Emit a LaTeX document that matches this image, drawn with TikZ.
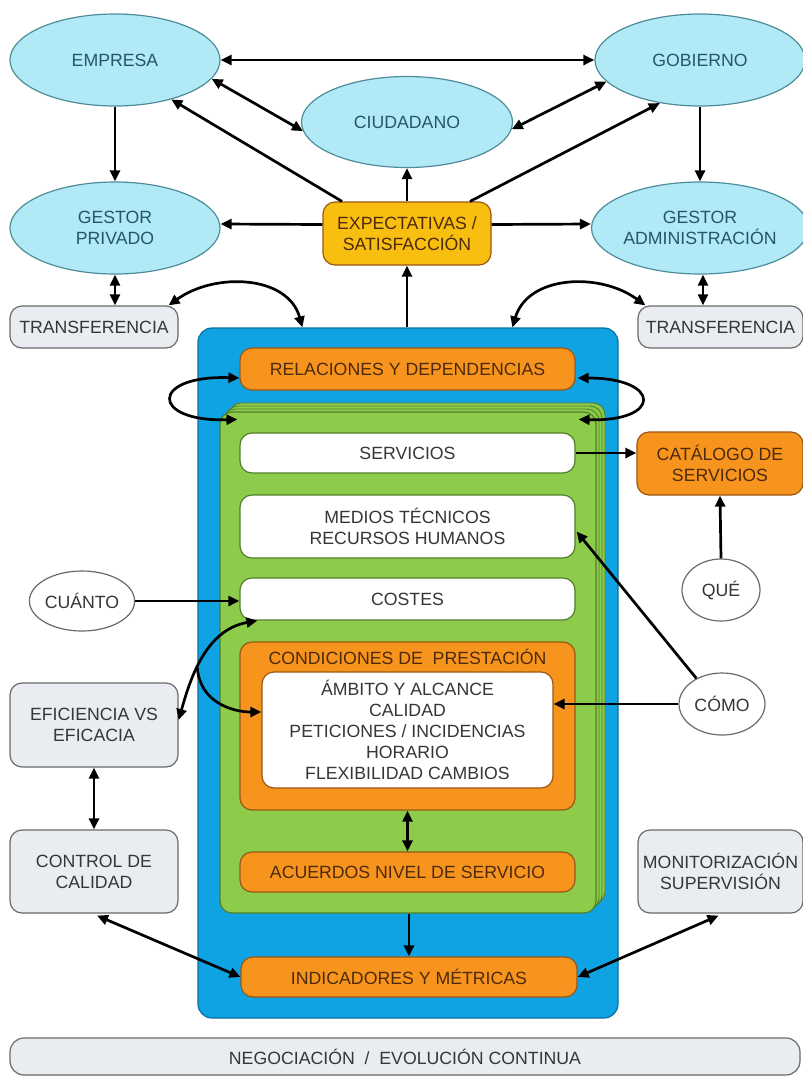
\documentclass[tikz,border=0pt]{standalone}
\usepackage{fontspec}
\setmainfont{Liberation Sans}
\usetikzlibrary{shapes.geometric,arrows.meta,calc}
\definecolor{cyanfill}{HTML}{B2E9F7}
\definecolor{cyanline}{HTML}{4E8C9C}
\definecolor{cyantext}{HTML}{245866}
\definecolor{orangefill}{HTML}{F7941E}
\definecolor{orangeline}{HTML}{9A5712}
\definecolor{orangetext}{HTML}{4E2A0C}
\definecolor{yellowfill}{HTML}{F9BF10}
\definecolor{bluefill}{HTML}{0FA3E3}
\definecolor{blueline}{HTML}{0A6FA0}
\definecolor{greenfill}{HTML}{8DCB4A}
\definecolor{greenline}{HTML}{4F7F2A}
\definecolor{grayfill}{HTML}{E9EDF2}
\definecolor{grayline}{HTML}{6A6A6A}
\definecolor{darktext}{HTML}{363636}
\tikzset{
  txt/.style={font=\fontsize{17.7}{21}\selectfont, align=center, inner sep=0pt},
  oval/.style={txt, ellipse, draw=cyanline, line width=1.2pt, fill=cyanfill, text=cyantext, minimum width=210pt, minimum height=92pt},
  smalloval/.style={txt, ellipse, draw=grayline, line width=1.2pt, fill=white, text=darktext},
  graybox/.style={txt, rectangle, rounded corners=12pt, draw=grayline, line width=1.2pt, fill=grayfill, text=darktext},
  orangebox/.style={txt, rectangle, rounded corners=12pt, draw=orangeline, line width=1.2pt, fill=orangefill, text=orangetext, minimum width=335pt},
  whitebox/.style={txt, rectangle, rounded corners=12pt, draw=greenline, line width=1.2pt, fill=white, text=darktext, minimum width=335pt},
  arr/.style={line width=2.7pt, -{Triangle[length=11pt,width=10pt]}},
  dbl/.style={line width=2.7pt, {Triangle[length=11pt,width=10pt]}-{Triangle[length=11pt,width=10pt]}},
}
\begin{document}
\begin{tikzpicture}[x=1pt,y=-1pt]
\useasboundingbox (0,0) rectangle (803,1077);
\fill[white] (0,0) rectangle (803,1077);

% top ellipses
\node[oval] (emp) at (115,60) {EMPRESA};
\node[oval] (gob) at (700,60) {GOBIERNO};
\node[oval, minimum width=211pt, minimum height=91pt] (ciu) at (407,122) {CIUDADANO};
\node[oval] (gpri) at (115,228) {GESTOR\\PRIVADO};
\node[oval, minimum width=208pt] (gadm) at (700,228) {GESTOR\\ADMINISTRACIÓN};
\node[txt, rectangle, rounded corners=12pt, draw=orangeline, line width=1.2pt, fill=yellowfill, text=orangetext, minimum width=168pt, minimum height=63pt] (exp) at (407,233.5) {EXPECTATIVAS /\\SATISFACCIÓN};

% transfer boxes
\node[graybox, minimum width=168pt, minimum height=42pt] (trL) at (94,327) {TRANSFERENCIA};
\node[graybox, minimum width=165pt, minimum height=42pt] (trR) at (720.5,327) {TRANSFERENCIA};

% blue container
\node[rectangle, rounded corners=14pt, draw=blueline, line width=1.2pt, fill=bluefill, minimum width=420pt, minimum height=690pt, inner sep=0pt] (blue) at (408,673) {};

% green stack
\foreach \k in {3,2,1} {
  \draw[rounded corners=12pt, draw=greenline, line width=0.9pt, fill=greenfill]
    (220+3*\k, 412-3*\k) rectangle (596+3*\k, 913-3*\k);
}
\node[rectangle, rounded corners=12pt, draw=greenline, line width=1.2pt, fill=greenfill, minimum width=376pt, minimum height=501pt, inner sep=0pt] (green) at (408,662.5) {};

\node[orangebox, minimum height=42pt] (rel) at (407.5,369) {RELACIONES Y DEPENDENCIAS};
\node[whitebox, minimum height=40pt] (serv) at (407.5,453) {SERVICIOS};
\node[whitebox, minimum height=63pt] (med) at (407.5,526.5) {MEDIOS TÉCNICOS\\RECURSOS HUMANOS};
\node[whitebox, minimum height=42pt] (cos) at (407.5,599) {COSTES};
\node[orangebox, minimum height=168pt] (cond) at (407.5,726) {};
\node[txt, text=orangetext] (condlab) at (407.5,657) {CONDICIONES DE\ \ PRESTACIÓN};
\node[txt, rectangle, rounded corners=12pt, draw=orangeline, line width=1.2pt, fill=white, text=darktext, minimum width=291pt, minimum height=116pt, font=\fontsize{17.7}{21}\selectfont] (inner) at (407.5,730) {ÁMBITO Y ALCANCE\\CALIDAD\\PETICIONES / INCIDENCIAS\\HORARIO\\FLEXIBILIDAD CAMBIOS};
\node[orangebox, minimum height=40pt] (acu) at (407.5,872) {ACUERDOS NIVEL DE SERVICIO};
\node[orangebox, minimum width=336pt, minimum height=40pt] (ind) at (409,977) {INDICADORES Y MÉTRICAS};

% right side
\node[txt, rectangle, rounded corners=12pt, draw=orangeline, line width=1.2pt, fill=orangefill, text=orangetext, minimum width=166pt, minimum height=63pt] (cat) at (720,463.5) {CATÁLOGO DE\\SERVICIOS};
\node[smalloval, minimum width=78pt, minimum height=62pt] (que) at (721,590) {QUÉ};
\node[smalloval, minimum width=86pt, minimum height=62pt] (como) at (722,704) {CÓMO};
\node[graybox, minimum width=165pt, minimum height=83pt] (mon) at (720.5,871.5) {MONITORIZACIÓN\\SUPERVISIÓN};

% left side
\node[smalloval, minimum width=105pt, minimum height=60pt] (cuan) at (82,601) {CUÁNTO};
\node[graybox, minimum width=168pt, minimum height=84pt] (efi) at (94,725) {EFICIENCIA VS\\EFICACIA};
\node[graybox, minimum width=168pt, minimum height=83pt] (ctrl) at (94,871.5) {CONTROL DE\\CALIDAD};

% bottom
\node[graybox, minimum width=790pt, minimum height=37pt, rounded corners=14pt] (neg) at (405,1056.5) {NEGOCIACIÓN\ \ /\ \ EVOLUCIÓN CONTINUA};

% connectors top
\draw[dbl] (emp.east) -- (gob.west);
\draw[dbl] (emp.-11) -- (ciu.185);
\draw[dbl] (ciu.-4) -- (gob.193);
\draw[arr] (emp.south) -- (gpri.north);
\draw[arr] (gob.south) -- (gadm.north);
\draw[arr] ($(exp.north)+(-65,0)$) -- (emp.-35);
\draw[arr] (exp.north) -- (ciu.south);
\draw[arr] ($(exp.north)+(63,0)$) -- (gob.227);
\draw[arr] ($(exp.west)+(0,-9)$) -- ($(gpri.east)+(0,-4)$);
\draw[arr] ($(exp.east)+(0,-9)$) -- ($(gadm.west)+(0,-4)$);
\draw[arr] (exp.south |- blue.north) -- (exp.south);
\draw[dbl, line width=2.4pt] (gpri.south) -- (gpri.south |- trL.north);
\draw[dbl, line width=2.4pt] ($(gadm.south)+(3,0)$) -- ($(gadm.south |- trR.north)+(3,0)$);
\draw[dbl] ($(trL.north east)+(-10,0)$) .. controls (215,272) and (288,275) .. ($(blue.north west)+(105,0)$);
\draw[dbl] ($(blue.north west)+(315,0)$) .. controls (528,275) and (600,272) .. ($(trR.north west)+(8,0)$);

% loops
\draw[dbl] ($(rel.west)+(0,9)$) .. controls (150,375) and (150,422) .. ($(green.north west)+(18,8)$);
\draw[dbl] ($(rel.east)+(2,9)$) .. controls (662,378) and (662,422) .. ($(green.north east)+(-18,8)$);

% right connectors
\draw[arr] (serv.east) -- (serv.east -| cat.west);
\draw[arr] (que.north) -- (cat.south);
\draw[arr] (como.135) -- ($(med.east)+(1,5)$);
\draw[arr] (como.west) -- (como.west -| inner.east);

% left connectors
\draw[arr] (cuan.east) -- (cuan.east -| cos.west);
\draw[dbl] ($(efi.east)+(0,-5)$) .. controls (190,680) and (205,630) .. coordinate[pos=0.42] (jn) ($(cos.south west)+(18,0)$);
\draw[arr] (jn) .. controls (200,702) and (232,712) .. ($(inner.west)+(0,-18)$);
\draw[dbl] (efi.south) -- (ctrl.north);

% bottom connectors
\draw[dbl] (cond.south) -- (acu.north);
\draw[arr] (green.south -| ind.north) -- (ind.north);
\draw[dbl] ($(ctrl.south)+(3,2)$) -- (ind.west);
\draw[dbl] ($(mon.south)+(-2,2)$) -- (ind.east);
\end{tikzpicture}
\end{document}
